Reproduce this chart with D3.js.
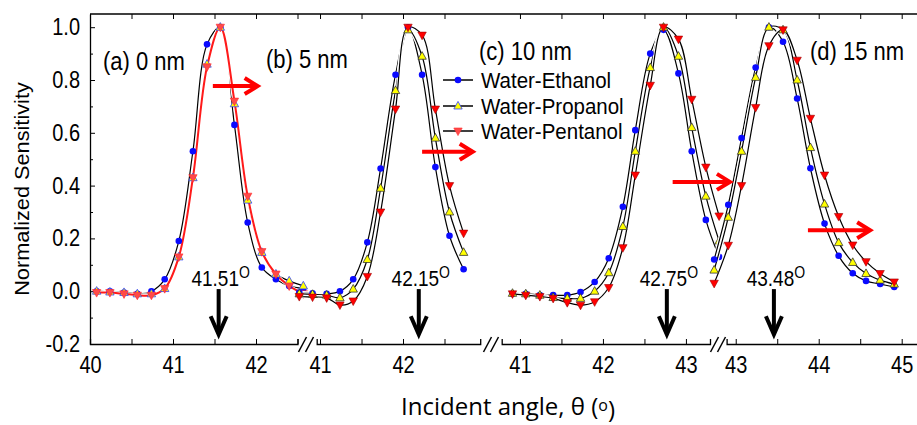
<!DOCTYPE html>
<html>
<head>
<meta charset="utf-8">
<script src="https://cdn.jsdelivr.net/npm/d3@7/dist/d3.min.js"></script>
<style>
    body { margin: 0; background: #fff; }
    svg text { font-family: Arial, "Liberation Sans", sans-serif; fill: #000; }
    .curve { fill: none; stroke: #000; stroke-width: 1.2px; }
    .halo { fill: none; stroke: #fff; stroke-width: 3.5px; }
</style>
</head>
<body>
<svg id="chart" width="917" height="425"></svg>
<script>
// ---- data ----
// (a) 0 nm
var anglesA   = [40.08, 40.24, 40.41, 40.57, 40.74, 40.90, 41.07, 41.24, 41.41, 41.57, 41.74, 41.90, 42.07, 42.24, 42.40, 42.57];
var ethanolA  = [0.0, 0.0, -0.005, -0.01, 0.0, 0.045, 0.19, 0.53, 0.935, 1.0, 0.63, 0.26, 0.09, 0.045, 0.02, 0.01];
var propanolA = [0.0, -0.003, -0.005, -0.01, -0.01, 0.01, 0.13, 0.43, 0.86, 1.0, 0.71, 0.345, 0.147, 0.065, 0.039, 0.02];
var pentanolA = [-0.005, -0.005, -0.01, -0.015, -0.015, 0.01, 0.13, 0.43, 0.85, 1.0, 0.72, 0.36, 0.15, 0.065, 0.02, -0.01];
// (b) 5 nm
var anglesB   = [40.75, 40.91, 41.08, 41.24, 41.40, 41.57, 41.73, 41.91, 42.06, 42.23, 42.39, 42.56, 42.73];
var ethanolB  = [-0.005, -0.008, -0.01, 0.0, 0.045, 0.185, 0.465, 0.82, 1.0, 0.82, 0.47, 0.21, 0.083];
var propanolB = [-0.01, -0.012, -0.015, -0.025, 0.008, 0.12, 0.39, 0.76, 0.99, 0.89, 0.58, 0.30, 0.147];
var pentanolB = [-0.02, -0.022, -0.025, -0.052, -0.037, 0.056, 0.30, 0.69, 1.0, 0.97, 0.69, 0.40, 0.22];
// (c) 10 nm
var anglesC   = [40.91, 41.07, 41.24, 41.40, 41.57, 41.73, 41.90, 42.07, 42.24, 42.39, 42.57, 42.73, 42.91, 43.07, 43.24, 43.40];
var ethanolC  = [-0.01, -0.01, -0.015, -0.015, -0.015, -0.003, 0.035, 0.125, 0.32, 0.61, 0.90, 0.99, 0.825, 0.53, 0.27, 0.13];
var propanolC = [-0.008, -0.01, -0.015, -0.024, -0.027, -0.027, 0.0, 0.07, 0.245, 0.53, 0.847, 1.0, 0.89, 0.62, 0.36, 0.19];
var pentanolC = [-0.01, -0.015, -0.02, -0.027, -0.043, -0.053, -0.04, 0.014, 0.165, 0.44, 0.78, 1.0, 0.955, 0.727, 0.47, 0.285];
// (d) 15 nm
var anglesD   = [42.74, 42.91, 43.07, 43.24, 43.40, 43.57, 43.74, 43.90, 44.07, 44.24, 44.41, 44.57, 44.74, 44.91];
var ethanolD  = [0.12, 0.327, 0.58, 0.847, 1.0, 0.945, 0.73, 0.466, 0.256, 0.134, 0.068, 0.039, 0.027, 0.016];
var propanolD = [0.08, 0.28, 0.53, 0.81, 1.0, 0.99, 0.80, 0.544, 0.33, 0.184, 0.109, 0.067, 0.042, 0.027];
var pentanolD = [0.03, 0.174, 0.40, 0.696, 0.93, 0.99, 0.875, 0.655, 0.44, 0.283, 0.175, 0.112, 0.067, 0.035];

var panelLabels = ['(a) 0 nm', '(b) 5 nm', '(c) 10 nm', '(d) 15 nm'];
var seriesNames = ['Water-Ethanol', 'Water-Propanol', 'Water-Pentanol'];

// broken x axis: one piece per panel
var segDomains = [[40, 42.5], [40.96, 42.93], [40.78, 43.29], [42.89, 45.2]];
var segTicks   = [[40, 40.5, 41, 41.5, 42, 42.5], [41, 41.5, 42, 42.5], [41, 41.5, 42, 42.5, 43], [43, 43.5, 44, 44.5, 45]];
var segLabels  = [[40, 41, 42], [41, 42], [41, 42, 43], [43, 44, 45]];
var yTicks     = [-0.2, 0.0, 0.2, 0.4, 0.6, 0.8, 1.0];
var yMinor     = [-0.1, 0.1, 0.3, 0.5, 0.7, 0.9];

// resonance angle markers and red shift arrows (angle, value)
var peakLabels = ['41.51', '42.15', '42.75', '43.48'];
var peakArrowAt = [41.55, 42.19, 42.77, 43.46];
var shiftFrom  = [41.48, 42.23, 42.84, 43.87];
var shiftTo    = [42.02, 42.84, 43.53, 44.62];
var shiftLevel = [0.777, 0.528, 0.414, 0.231];

/** Draws the four panel sensitivity figure. */
class SensitivityPlot {
    constructor() {
        this.svg = d3.select('#chart');
        this.sy = 1.16;   // the source picture is slightly stretched vertically
        this.y = d3.scaleLinear().domain([-0.2, 1.05]).range([344, 14]);
        var ranges = [[90, 297.5], [316.7, 480.2], [501.7, 710], [726.6, 918.3]];
        this.x = segDomains.map((d, i) => d3.scaleLinear().domain(d).range(ranges[i]));
        this.panels = [
            { angles: anglesA, series: [ethanolA, propanolA, pentanolA] },
            { angles: anglesB, series: [ethanolB, propanolB, pentanolB] },
            { angles: anglesC, series: [ethanolC, propanolC, pentanolC] },
            { angles: anglesD, series: [ethanolD, propanolD, pentanolD] }
        ];
    }

    // text helper, stretched like the source
    text(x, y, str, size, anchor, sy) {
        var g = this.svg.append('g').attr('transform', `translate(${x},${y}) scale(1,${sy || this.sy})`);
        return g.append('text')
            .attr('dy', '0.35em')
            .attr('text-anchor', anchor || 'start')
            .style('font-size', size + 'px')
            .text(str);
    }

    marker(g, kind, cx, cy, first) {
        if (kind === 0) {
            g.append('circle').attr('cx', cx).attr('cy', cy).attr('r', 3.3).attr('fill', '#0a0aff');
        } else if (kind === 1) {
            g.append('path').attr('transform', `translate(${cx},${cy})`)
                .attr('d', 'M0,-4.6L4.2,3L-4.2,3Z')
                .attr('fill', '#ffff00')
                .attr('stroke', first ? '#3040ff' : '#333').attr('stroke-width', 0.8);
        } else {
            g.append('path').attr('transform', `translate(${cx},${cy})`)
                .attr('d', 'M0,4.6L4.2,-3L-4.2,-3Z')
                .attr('fill', first ? '#ff4a4a' : '#ff0000')
                .attr('stroke', first ? '#ff2a2a' : '#a00000').attr('stroke-width', 0.6);
        }
    }

    drawAxes() {
        var y = this.y;
        var svg = this.svg;

        var left = svg.append('g').attr('transform', 'translate(90,0)')
            .call(d3.axisLeft(y).tickValues(yTicks).tickFormat(d => d.toFixed(1))
                .tickSizeInner(-5).tickSizeOuter(0).tickPadding(10));
        left.append('g').call(d3.axisLeft(y).tickValues(yMinor).tickFormat('').tickSizeInner(-3).tickSizeOuter(0))
            .select('.domain').remove();
        left.selectAll('text').style('font-size', '20px').attr('transform', `scale(1,${this.sy})`);

        this.x.forEach((x, i) => {
            var bottom = svg.append('g').attr('transform', 'translate(0,344)')
                .call(d3.axisBottom(x).tickValues(segTicks[i])
                    .tickFormat(d => segLabels[i].includes(d) ? d : '')
                    .tickSizeInner(-5).tickSizeOuter(-5).tickPadding(11));
            bottom.selectAll('text').style('font-size', '20px').attr('transform', `scale(1,${this.sy})`);

            var top = svg.append('g').attr('transform', 'translate(0,14)')
                .call(d3.axisTop(x).tickValues(segTicks[i]).tickFormat('').tickSizeInner(-5).tickSizeOuter(0));
            top.select('.domain').remove();
        });

        svg.append('line').attr('x1', 90).attr('x2', 917).attr('y1', 14).attr('y2', 14)
            .attr('stroke', '#000').attr('stroke-width', 1.3);
        svg.selectAll('.domain').attr('stroke-width', 1.3);

        // break marks between axis pieces
        [306, 491, 718].forEach(cx => {
            [-3.5, 3.5].forEach(off => {
                svg.append('line')
                    .attr('x1', cx + off - 4).attr('y1', 352)
                    .attr('x2', cx + off + 4).attr('y2', 337)
                    .attr('stroke', '#000').attr('stroke-width', 1.5);
            });
        });

        this.text(22, 189, 'Normalized Sensitivity', 20.5, 'middle', 1.06)
            .attr('transform', 'rotate(-90)');

        var title = this.text(508, 407, 'Incident angle, \u03b8 (', 24, 'middle', 1.0)
            .style('font-family', '"Open Sans", Lato, sans-serif');
        title.append('tspan').attr('dy', '-0.3em').style('font-size', '16px').text('o');
        title.append('tspan').attr('dy', '0.3em').text(')');
    }

    drawPanel(p, i) {
        var x = this.x[i];
        var y = this.y;
        var g = this.svg.append('g');
        var line = d3.line().x(d => x(d[0])).y(d => y(d[1])).curve(d3.curveCatmullRom.alpha(0.5));

        p.series.forEach((vals, k) => {
            var pts = p.angles.map((a, j) => [a, vals[j]]);
            var red = (i === 0 && k === 2);
            g.append('path').attr('class', 'halo').attr('d', line(pts));
            g.append('path').attr('class', 'curve').attr('d', line(pts))
                .style('stroke', red ? '#ff1a1a' : '#000')
                .style('stroke-width', red ? '2px' : '1.2px');
        });

        p.series.forEach((vals, k) => {
            p.angles.forEach((a, j) => this.marker(g, k, x(a), y(vals[j]), i === 0));
        });
    }

    drawAnnotations() {
        var y = this.y;
        var svg = this.svg;
        var labelY = [0.87, 0.88, 0.91, 0.91];
        var labelX = [103, 266, 479, 810];

        panelLabels.forEach((s, i) => this.text(labelX[i], y(labelY[i]), s, 22));

        peakLabels.forEach((s, i) => {
            var cx = this.x[i](peakArrowAt[i]);
            var t = this.text(cx + 2, y(0.05), s, 19, 'middle');
            t.append('tspan').attr('dy', '-0.5em').style('font-size', '14px').text('O');

            svg.append('line').attr('x1', cx).attr('x2', cx)
                .attr('y1', y(0.008)).attr('y2', y(-0.16))
                .attr('stroke', '#000').attr('stroke-width', 4);
            svg.append('path')
                .attr('d', `M${cx - 8},${y(-0.095)}L${cx},${y(-0.16) + 1}L${cx + 8},${y(-0.095)}`)
                .attr('fill', 'none').attr('stroke', '#000').attr('stroke-width', 4);
        });

        shiftFrom.forEach((a, i) => {
            var x = this.x[i];
            var x1 = x(a), x2 = x(shiftTo[i]), yy = y(shiftLevel[i]);
            svg.append('line').attr('x1', x1).attr('x2', x2 - 2).attr('y1', yy).attr('y2', yy)
                .attr('stroke', '#ff0000').attr('stroke-width', 4);
            svg.append('path')
                .attr('d', `M${x2 - 13},${yy - 8}L${x2},${yy}L${x2 - 13},${yy + 8}`)
                .attr('fill', 'none').attr('stroke', '#ff0000').attr('stroke-width', 4);
        });
    }

    drawLegend() {
        var rows = [80, 106, 131];
        var g = this.svg.append('g');
        seriesNames.forEach((s, k) => {
            g.append('line').attr('x1', 443).attr('x2', 473).attr('y1', rows[k]).attr('y2', rows[k])
                .attr('stroke', '#000').attr('stroke-width', 1.5);
            this.marker(g, k, 458, rows[k], true);
            this.text(481, rows[k], s, 20.5, 'start', 1.05);
        });
    }

    draw() {
        this.drawAxes();
        this.panels.forEach((p, i) => this.drawPanel(p, i));
        this.drawAnnotations();
        this.drawLegend();
    }
}

var plot = new SensitivityPlot();
plot.draw();
</script>
</body>
</html>
